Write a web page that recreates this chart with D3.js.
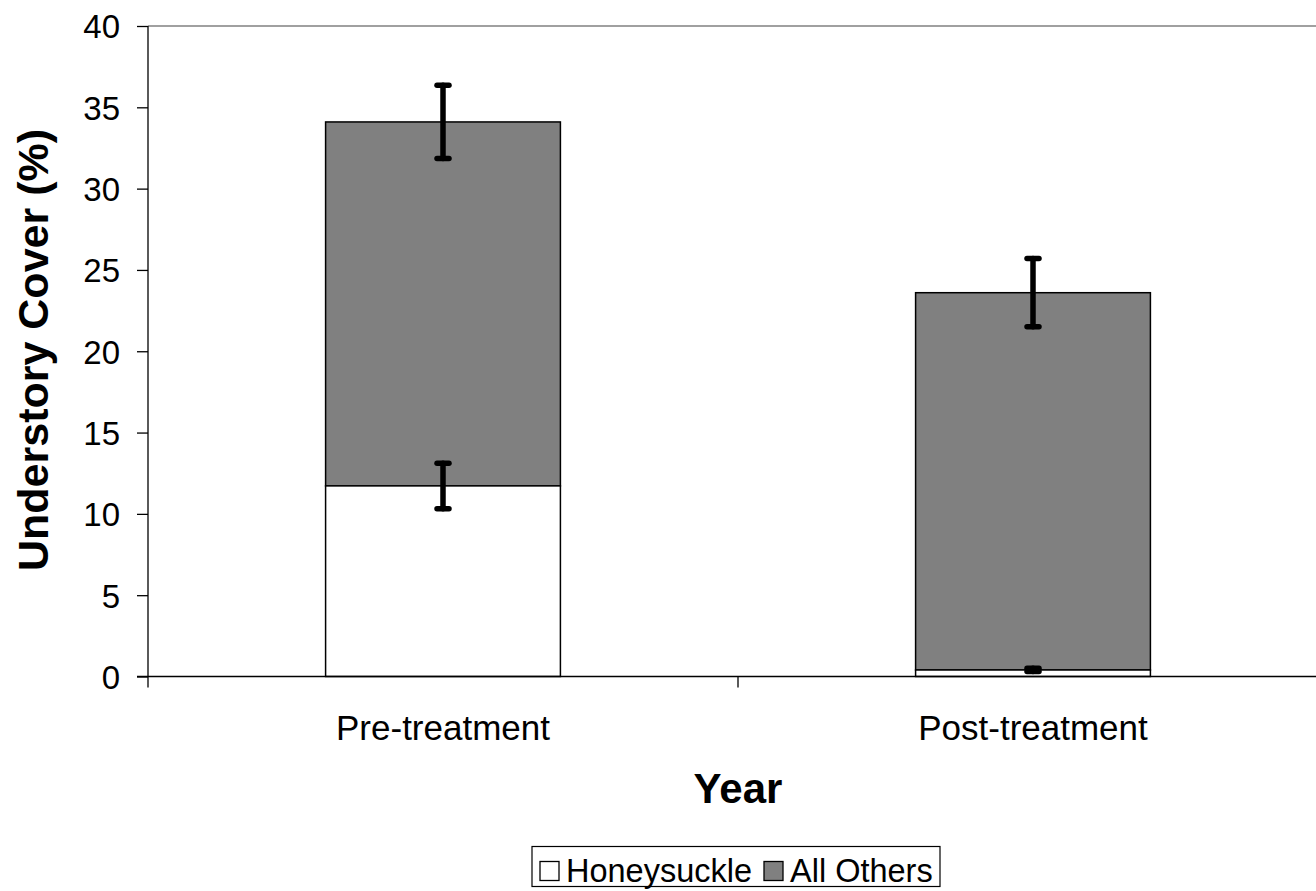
<!DOCTYPE html>
<html><head><meta charset="utf-8">
<script src="https://cdn.jsdelivr.net/npm/d3@7"></script>
<style>body{margin:0;background:#fff}svg{display:block}text{font-family:"Liberation Sans",Arial,sans-serif}</style>
</head><body><svg id="c" width="1316" height="891"></svg>
<script>
const categories = ["Pre-treatment", "Post-treatment"];
const seriesNames = ["Honeysuckle", "All Others"];
const honeysuckle = [11.72, 0.4];
const allOthers = [22.38, 23.2];
const honeysuckleErr = [1.4, 0.1];
const totalErr = [2.25, 2.1];
const yTicks = [0, 5, 10, 15, 20, 25, 30, 35, 40];
const colors = ["#ffffff", "#808080"];

(function () {
const svg = d3.select("#c");
const mLeft = 148, mTop = 26, mBottom = 676.5, mRight = 1328;
const x = d3.scaleBand().domain(categories).range([mLeft, mRight]).paddingInner(0).paddingOuter(0);
const y = d3.scaleLinear().domain([0, 40]).range([mBottom, mTop]);
const barW = x.bandwidth() * 0.398;

svg.append("line").attr("x1", mLeft).attr("x2", mRight).attr("y1", mTop).attr("y2", mTop).attr("stroke", "#808080").attr("stroke-width", 1.5);

const stack = categories.map((c, i) => ({c, h: honeysuckle[i], o: allOthers[i]}));
const g = svg.append("g");
stack.forEach((d) => {
  const cx = x(d.c) + x.bandwidth() / 2;
  g.append("rect").attr("x", cx - barW / 2).attr("width", barW)
    .attr("y", y(d.h + d.o)).attr("height", y(d.h) - y(d.h + d.o))
    .attr("fill", colors[1]).attr("stroke", "#000").attr("stroke-width", 1.5);
  g.append("rect").attr("x", cx - barW / 2).attr("width", barW)
    .attr("y", y(d.h)).attr("height", y(0) - y(d.h))
    .attr("fill", colors[0]).attr("stroke", "#000").attr("stroke-width", 1.5);
});

function errBar(cx, v, e) {
  const eg = svg.append("g").attr("stroke", "#000").attr("stroke-width", 5.5).attr("stroke-linecap", "round");
  eg.append("line").attr("x1", cx).attr("x2", cx).attr("y1", y(v - e)).attr("y2", y(v + e));
  eg.append("line").attr("x1", cx - 6).attr("x2", cx + 6).attr("y1", y(v + e)).attr("y2", y(v + e));
  eg.append("line").attr("x1", cx - 6).attr("x2", cx + 6).attr("y1", y(v - e)).attr("y2", y(v - e));
}
stack.forEach((d, i) => {
  const cx = x(d.c) + x.bandwidth() / 2;
  errBar(cx, d.h, honeysuckleErr[i]);
  errBar(cx, d.h + d.o, totalErr[i]);
});

const ya = svg.append("g").attr("transform", `translate(${mLeft},0)`)
  .call(d3.axisLeft(y).tickValues(yTicks).tickSize(11).tickPadding(17));
ya.select(".domain").attr("stroke", "#000").attr("stroke-width", 1.3).attr("d", `M0,${mTop}V${mBottom}`);
ya.selectAll(".tick line").attr("stroke", "#000").attr("stroke-width", 1.3);
ya.selectAll("text").attr("font-size", 33).attr("fill", "#000").attr("dy", "0.36em").attr("font-family", "Liberation Sans, Arial, sans-serif");

const xa = svg.append("g").attr("transform", `translate(0,${mBottom})`)
  .call(d3.axisBottom(x).tickSize(0));
xa.select(".domain").attr("stroke", "#000").attr("stroke-width", 1.3).attr("d", `M${mLeft - 11},0H${mRight}`);
xa.selectAll("text").attr("font-size", 35).attr("fill", "#000").attr("dy", null).attr("y", 740 - mBottom)
  .attr("font-family", "Liberation Sans, Arial, sans-serif");
const bounds = [mLeft, x(categories[1]), mRight];
svg.append("g").selectAll("line").data(bounds).join("line")
  .attr("x1", d => d).attr("x2", d => d).attr("y1", mBottom).attr("y2", mBottom + 11)
  .attr("stroke", "#000").attr("stroke-width", 1.3);

svg.append("text").attr("x", 738).attr("y", 803).attr("text-anchor", "middle")
  .attr("font-size", 42).attr("font-weight", "bold").text("Year");
svg.append("text").attr("transform", `translate(48,350) rotate(-90)`).attr("text-anchor", "middle")
  .attr("font-size", 43).attr("font-weight", "bold").text("Understory Cover (%)");

const lg = svg.append("g");
lg.append("rect").attr("x", 532).attr("y", 846.5).attr("width", 408).attr("height", 40)
  .attr("fill", "#fff").attr("stroke", "#000").attr("stroke-width", 1.2);
const items = [{n: seriesNames[0], c: colors[0], x: 540}, {n: seriesNames[1], c: colors[1], x: 764}];
items.forEach(it => {
  lg.append("rect").attr("x", it.x).attr("y", 861.5).attr("width", 19).attr("height", 19)
    .attr("fill", it.c).attr("stroke", "#000").attr("stroke-width", 1.3);
  lg.append("text").attr("x", it.x + 26).attr("y", 882).attr("font-size", 32.5).text(it.n);
});
})();
</script></body></html>
